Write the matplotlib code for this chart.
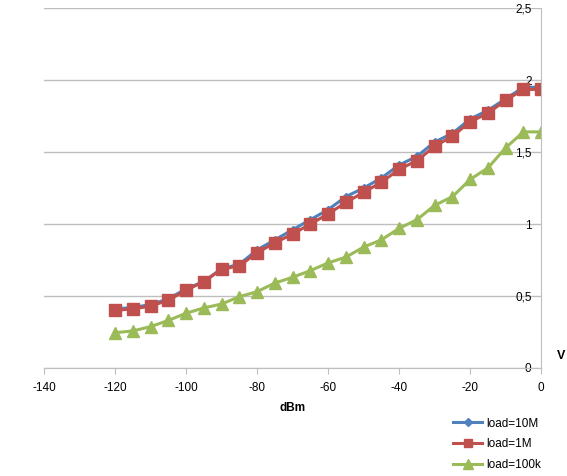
import numpy as np
import matplotlib.pyplot as plt
from matplotlib.ticker import FuncFormatter, MultipleLocator

plt.rcParams['font.family'] = ['Liberation Sans', 'DejaVu Sans']
plt.rcParams['axes.unicode_minus'] = False

# input power, dBm
dbm = [-120, -115, -110, -105, -100, -95, -90, -85, -80, -75, -70, -65, -60,
       -55, -50, -45, -40, -35, -30, -25, -20, -15, -10, -5, 0]

# output voltage, V
v_10M = [0.41, 0.42, 0.44, 0.48, 0.55, 0.60, 0.69, 0.72, 0.82, 0.89, 0.96, 1.03, 1.10,
         1.19, 1.25, 1.32, 1.41, 1.47, 1.57, 1.63, 1.73, 1.79, 1.87, 1.95, 1.95]
v_1M = [0.40, 0.41, 0.43, 0.47, 0.54, 0.60, 0.685, 0.71, 0.80, 0.87, 0.93, 1.00, 1.07,
        1.15, 1.22, 1.29, 1.38, 1.44, 1.54, 1.61, 1.71, 1.77, 1.86, 1.935, 1.935]
v_100k = [0.245, 0.257, 0.287, 0.33, 0.38, 0.417, 0.444, 0.495, 0.53, 0.59, 0.63, 0.676, 0.73,
          0.77, 0.84, 0.89, 0.97, 1.03, 1.13, 1.19, 1.31, 1.39, 1.53, 1.64, 1.64]

fig = plt.figure(figsize=(5.67, 4.76), dpi=100)
ax = fig.add_axes([0.0776, 0.227, 0.877, 0.756])

ax.plot(dbm, v_10M, c='#4F81BD', lw=2.2, marker='D', ms=4.5, label='load=10M')
ax.plot(dbm, v_1M, c='#C0504D', lw=2.2, marker='s', ms=8, label='load=1M')
ax.plot(dbm, v_100k, c='#9BBB59', lw=2.2, marker='^', ms=8.5, label='load=100k')

ax.set_xlim(-140, 0)
ax.set_ylim(0, 2.5)
ax.xaxis.set_major_locator(MultipleLocator(20))
ax.yaxis.set_major_locator(MultipleLocator(0.5))
ax.yaxis.set_major_formatter(FuncFormatter(lambda v, p: '{:g}'.format(v).replace('.', ',')))

ax.grid(axis='y', color='#BEBEBE', lw=1)
ax.set_axisbelow(True)
for s in ['top', 'left']:
	ax.spines[s].set_visible(False)
ax.spines['bottom'].set_color('#BEBEBE')
ax.spines['right'].set_color('#BEBEBE')

ax.yaxis.tick_right()
ax.tick_params(axis='y', length=0, pad=-7, labelsize=8.5)
for lbl in ax.get_yticklabels():
	lbl.set_ha('right')
ax.tick_params(axis='x', length=4, color='#BEBEBE', labelsize=8.5, pad=6)

ax.set_xlabel('dBm', fontweight='bold', fontsize=8.5)
ax.xaxis.set_label_coords(0.5, -0.095)
ax.text(1.04, 0.025, 'V', transform=ax.transAxes, fontweight='bold', fontsize=9, ha='center')

fig.legend(loc='upper left', bbox_to_anchor=(0.78, 0.145), frameon=False, fontsize=8.5,
           handlelength=2.5, labelspacing=0.75, handletextpad=0.3, markerscale=0.8)

fig.savefig('out.png')
